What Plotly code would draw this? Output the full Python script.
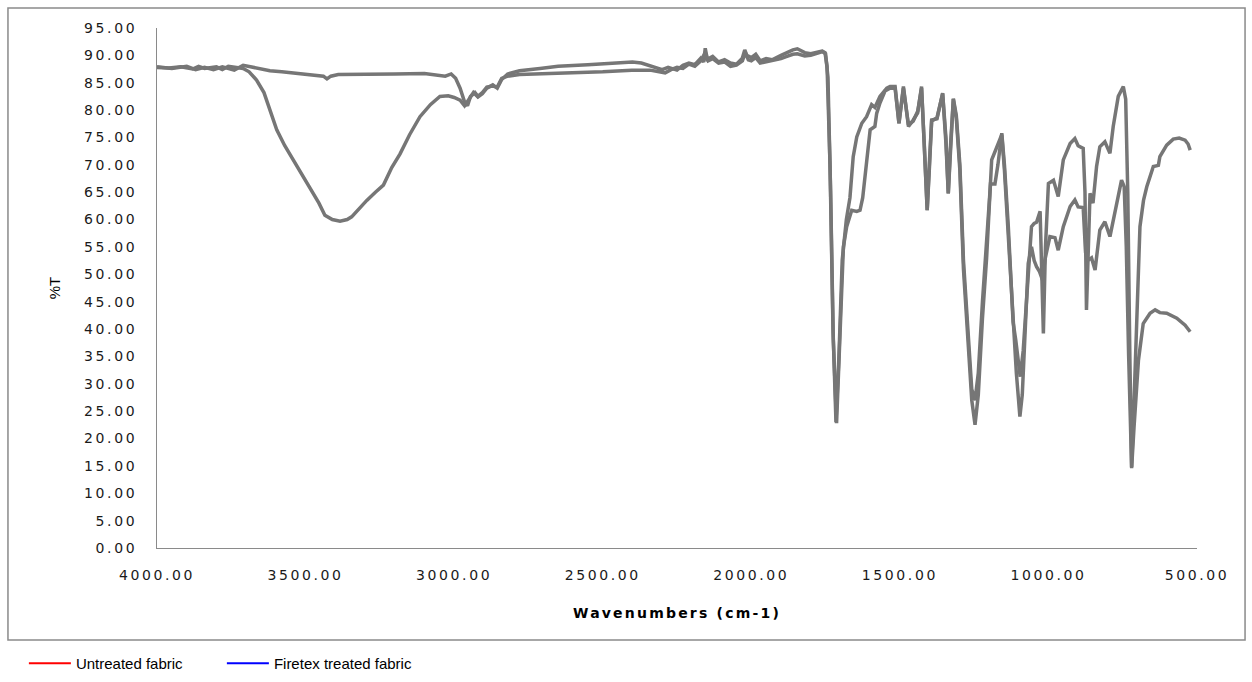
import plotly.graph_objects as go

# ---- Curve A (broad O-H band near 3380 cm-1) ----
wn_a = [4000, 3960, 3920, 3880, 3860, 3840, 3800, 3780, 3760, 3740, 3710, 3690, 3665, 3640, 3620,
        3597, 3570, 3541, 3510, 3479, 3455, 3435, 3410, 3384, 3360, 3345, 3320, 3294, 3265, 3238,
        3210, 3182, 3150, 3115, 3080, 3048, 3020, 3000, 2980, 2965, 2950, 2935, 2920, 2905, 2890,
        2870, 2855, 2840, 2820, 2780, 2711, 2650, 2550, 2450, 2400, 2370, 2330, 2300, 2280, 2250,
        2230, 2210, 2190, 2170, 2160, 2155, 2148, 2130, 2110, 2090, 2070, 2050, 2030, 2022, 2015,
        2000, 1985, 1970, 1950, 1930, 1900, 1880, 1860, 1845, 1820, 1800, 1780, 1762, 1752, 1745,
        1735, 1725, 1715, 1705, 1694, 1680, 1668, 1657, 1645, 1628, 1612, 1595, 1584, 1567, 1544,
        1533, 1516, 1503, 1488, 1471, 1455, 1440, 1427, 1418, 1408, 1400, 1393, 1375, 1356, 1345,
        1337, 1330, 1320, 1310, 1298, 1286, 1270, 1258, 1247, 1236, 1222, 1208, 1195, 1180, 1170,
        1157, 1148, 1135, 1125, 1119, 1110, 1095, 1085, 1073, 1057, 1048, 1040, 1028, 1022, 1017,
        1010, 1000, 983, 967, 950, 927, 911, 900, 883, 877, 872, 866, 860, 850, 838,
        827, 810, 793, 782, 765, 748, 740, 733, 726, 720, 713, 703, 692, 680, 669,
        647, 630, 625, 602, 580, 560, 540, 530, 523]
t_a = [87.8, 87.7, 87.9, 87.5, 88.0, 87.6, 87.9, 87.4, 88.0, 87.9, 87.6, 87.0, 85.5, 83.2, 80.0,
       76.4, 73.5, 70.9, 68.0, 65.4, 63.0, 60.8, 60.0, 59.7, 60.0, 60.5, 62.0, 63.5, 65.0, 66.3,
       69.5, 72.0, 75.5, 78.8, 81.0, 82.5, 82.6, 82.3, 81.8, 80.8, 82.0, 83.2, 82.4, 83.0, 84.0,
       84.6, 84.0, 85.6, 86.6, 87.2, 87.6, 88.0, 88.3, 88.6, 88.8, 88.6, 88.0, 87.4, 87.8, 87.3,
       88.2, 88.6, 88.3, 89.5, 88.8, 91.3, 89.3, 89.8, 88.8, 89.2, 88.6, 88.4, 89.5, 91.0, 90.0,
       89.6, 90.2, 89.0, 89.4, 89.2, 90.0, 90.5, 91.0, 91.2, 90.5, 90.3, 90.6, 90.8, 90.5, 88.0,
       70.0, 40.0, 23.0, 35.0, 52.6, 60.0, 64.0, 71.5, 75.1, 77.6, 78.8, 81.0, 80.5, 82.5, 84.0,
       84.3, 84.3, 77.6, 84.3, 77.0, 78.2, 79.5, 84.3, 75.0, 61.7, 70.0, 78.2, 78.4, 83.1, 75.0,
       64.8, 73.0, 82.1, 79.0, 70.0, 52.6, 38.0, 29.0, 27.0, 32.0, 45.0, 56.0, 66.5, 66.5, 70.0,
       75.8, 70.0, 58.7, 47.0, 41.3, 38.0, 31.3, 36.0, 46.5, 58.7, 59.3, 59.5, 61.5, 50.0, 39.2,
       55.0, 66.6, 67.2, 64.2, 70.9, 73.9, 74.8, 73.5, 73.0, 65.0, 43.5, 55.0, 64.8, 63.0, 69.7,
       73.3, 74.2, 72.1, 77.0, 82.5, 84.3, 82.0, 65.0, 35.0, 14.8, 25.0, 40.0, 58.7, 63.5, 66.0,
       69.7, 69.9, 71.5, 73.6, 74.7, 74.9, 74.5, 73.8, 72.7]

# ---- Curve B (no O-H band) ----
wn_b = [4000, 3950, 3900, 3870, 3840, 3810, 3780, 3740, 3710, 3690, 3660, 3620, 3580, 3540, 3500,
        3460, 3440, 3428, 3415, 3390, 3300, 3200, 3100, 3060, 3030, 3010, 2995, 2980, 2965, 2955,
        2945, 2930, 2920, 2905, 2890, 2870, 2855, 2840, 2820, 2780, 2711, 2600, 2500, 2402, 2341,
        2310, 2290, 2270, 2250, 2230, 2210, 2190, 2170, 2155, 2145, 2130, 2110, 2090, 2070, 2050,
        2030, 2020, 2010, 2000, 1985, 1970, 1950, 1930, 1900, 1880, 1860, 1845, 1820, 1800, 1780,
        1760, 1750, 1742, 1733, 1724, 1713, 1703, 1690, 1679, 1662, 1645, 1634, 1625, 1617, 1600,
        1584, 1578, 1567, 1550, 1533, 1516, 1503, 1488, 1471, 1455, 1440, 1427, 1418, 1408, 1400,
        1393, 1375, 1356, 1345, 1337, 1330, 1320, 1310, 1298, 1286, 1270, 1258, 1247, 1236, 1222,
        1208, 1191, 1180, 1170, 1157, 1148, 1135, 1118, 1108, 1096, 1088, 1078, 1068, 1057, 1048,
        1040, 1030, 1020, 1012, 995, 978, 967, 950, 927, 911, 900, 883, 875, 866, 855,
        843, 827, 810, 793, 776, 754, 745, 738, 730, 720, 712, 697, 681, 665, 658,
        641, 625, 602, 568, 540, 523]
t_b = [87.9, 87.6, 88.0, 87.4, 87.8, 87.4, 87.9, 87.3, 88.2, 88.0, 87.6, 87.2, 87.0, 86.8, 86.6,
       86.4, 86.2, 85.7, 86.2, 86.5, 86.5, 86.6, 86.7, 86.5, 86.2, 86.6, 85.8, 84.0, 81.5, 80.8,
       82.5, 83.2, 82.5, 83.2, 84.2, 84.4, 84.2, 85.8, 86.2, 86.5, 86.6, 86.8, 87.0, 87.3, 87.3,
       87.0, 86.8, 87.4, 87.8, 87.6, 88.4, 88.0, 89.0, 90.5, 89.0, 89.4, 88.6, 88.8, 88.0, 88.2,
       89.0, 90.5, 89.2, 89.0, 89.6, 88.6, 88.8, 89.0, 89.4, 89.8, 90.2, 90.3, 89.9, 90.0, 90.3,
       90.7, 90.3, 86.0, 65.0, 38.0, 22.8, 38.0, 55.0, 58.7, 61.7, 61.5, 61.7, 64.0, 68.5, 76.4,
       77.0, 79.4, 81.3, 83.5, 84.0, 84.0, 77.6, 84.0, 77.3, 78.0, 79.8, 84.0, 74.0, 61.7, 71.0,
       78.0, 78.6, 83.0, 74.0, 64.8, 72.0, 82.0, 78.5, 69.0, 51.0, 36.0, 27.0, 22.5, 28.0, 42.0,
       53.0, 70.9, 72.5, 74.0, 75.5, 69.0, 57.0, 42.0, 32.0, 24.0, 28.0, 40.0, 52.0, 55.0, 52.5,
       51.4, 50.5, 49.0, 52.6, 56.9, 56.7, 54.4, 58.7, 62.4, 63.6, 62.3, 62.2, 54.0, 52.6, 53.0,
       50.8, 58.1, 59.6, 56.9, 61.2, 67.2, 66.0, 55.0, 35.0, 14.6, 22.0, 34.3, 41.0, 42.5, 42.9,
       43.5, 43.0, 42.9, 42.0, 40.7, 39.5]

legend_names = ["Untreated fabric", "Firetex treated fabric"]
legend_colors = ["#ff0000", "#0000ff"]
y_ticks = list(range(0, 96, 5))
x_ticks = list(range(500, 4001, 500))

LINE_GRAY = "#767676"
AXIS_GRAY = "#8a8a8a"

fig = go.Figure()
fig.add_trace(go.Scatter(x=wn_a, y=t_a, mode="lines", showlegend=False,
                         line=dict(color=LINE_GRAY, width=3.5)))
fig.add_trace(go.Scatter(x=wn_b, y=t_b, mode="lines", showlegend=False,
                         line=dict(color=LINE_GRAY, width=3.5)))
for name, col in zip(legend_names, legend_colors):
    fig.add_trace(go.Scatter(x=[None], y=[None], mode="lines", name=name,
                             line=dict(color=col, width=2)))

fig.update_layout(
    width=1252, height=682,
    margin=dict(l=157, r=55, t=28, b=134, autoexpand=False),
    paper_bgcolor="white", plot_bgcolor="white",
    font=dict(family="DejaVu Sans", color="#1a1a1a"),
    showlegend=True,
    legend=dict(orientation="h", x=-0.128, y=-0.222, xanchor="left", yanchor="middle",
                font=dict(family="Liberation Sans", size=15, color="#000000"),
                itemwidth=42, entrywidth=141, entrywidthmode="pixels",
                bgcolor="rgba(0,0,0,0)", traceorder="normal"),
    shapes=[dict(type="rect", xref="paper", yref="paper",
                 x0=-0.1433, x1=1.0462, y0=-0.1769, y1=1.0385,
                 line=dict(color=AXIS_GRAY, width=1.5), fillcolor="rgba(0,0,0,0)")],
)
fig.update_xaxes(range=[4000, 500], tickvals=x_ticks, tickformat=".2f",
                 showgrid=False, zeroline=False, showline=True, linecolor=AXIS_GRAY, linewidth=1,
                 ticks="", ticklabelstandoff=14, tickfont=dict(size=14, family="DejaVu Sans"),
                 title=dict(text="<b>Wavenumbers (cm-1)</b>", standoff=26,
                            font=dict(size=14, family="DejaVu Sans", color="#000000")))
fig.update_yaxes(range=[0, 95], tickvals=y_ticks, tickformat=".2f",
                 showgrid=False, zeroline=False, showline=True, linecolor=AXIS_GRAY, linewidth=1,
                 ticks="", ticklabelstandoff=16, tickfont=dict(size=14, family="DejaVu Sans"),
                 title=dict(text="%T", standoff=32,
                            font=dict(size=15, family="Liberation Sans", color="#000000")))

post = """
document.body.style.margin='0';
document.body.style.overflow='hidden';
var gd = document.getElementById('{plot_id}');
gd.querySelectorAll('.xtick text, .ytick text').forEach(function(t){t.style.letterSpacing='2.6px';});
gd.querySelectorAll('.g-xtitle text').forEach(function(t){t.style.letterSpacing='2.2px';});
"""
fig.write_html("out.html", config={"displayModeBar": False}, post_script=post)
